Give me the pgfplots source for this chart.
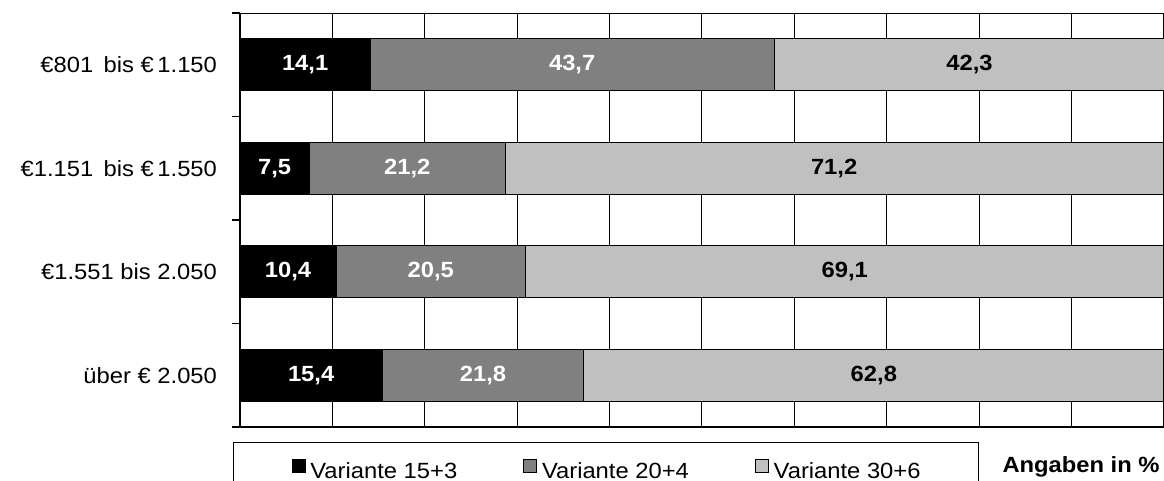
\documentclass[border=0pt]{standalone}
\usepackage{pgfplots}
\pgfplotsset{compat=1.18}
\usepackage{pgfplotstable}
\usepackage{fontspec}
\setmainfont{Liberation Sans}[FakeStretch=1.08]

\definecolor{midgray}{HTML}{808080}
\definecolor{lightgray}{HTML}{C0C0C0}

% shares per income group (top group at y=3)
\pgfplotstableread{
y a b c
3 14.1 43.7 42.3
2 7.5 21.2 71.2
1 10.4 20.5 69.1
0 15.4 21.8 62.8
}\data

\pgfplotsset{base/.style={
    scale only axis, width=462pt, height=207pt,
    xmin=0, xmax=100, ymin=-0.5, ymax=3.5,
  },
  lbl/.style={draw=none, forget plot, nodes near coords, point meta=explicit,
    nodes near coords={\pgfmathprintnumber[fixed,fixed zerofill,precision=1,use comma,assume math mode=true]{\pgfplotspointmeta}},
    every node near coord/.append style={anchor=center, font=\fontsize{11}{13}\bfseries, text=#1}},
}

\begin{document}
\begin{tikzpicture}[font=\fontsize{11}{13}\selectfont]
\begin{axis}[base, name=main,
    xbar stacked, bar width=0.5,
    axis x line*=bottom, axis y line*=left,
    axis line style={-, line width=0.6pt},
    xtick={0,10,...,100}, xticklabels={}, xtick style={draw=none},
    xmajorgrids, major grid style={black, line width=0.5pt},
    ytick={0,1,2,3},
    yticklabels={über € 2.050, €1.551 bis 2.050, €1.151~\,bis~€\,1.550, €801~\,bis~€\,1.150},
    ytick style={draw=none},
    yticklabel style={xshift=-8pt},
    extra y ticks={-0.5,0.5,1.5,2.5,3.5}, extra y tick labels={},
    extra y tick style={tick align=outside, major tick length=4pt,
      ytick style={draw=black, line width=0.6pt}},
  ]
\addplot[fill=black, draw=black, line width=0.5pt] table[x=a, y=y] {\data};
\addplot[fill=midgray, draw=black, line width=0.5pt] table[x=b, y=y] {\data};
\addplot[fill=lightgray, draw=black, line width=0.5pt] table[x=c, y=y] {\data};
\draw[line width=0.6pt] (rel axis cs:0,1) -- (rel axis cs:1,1);
\end{axis}

\begin{axis}[base, hide axis,
    legend columns=3,
    legend image code/.code={\draw[line width=0.4pt, #1] (0pt,-0.4pt) rectangle (6.5pt,6.5pt);},
    legend style={at={(0,0)}, anchor=north west, xshift=-3.5pt, yshift=-7.5pt,
      draw=black, line width=0.6pt, inner xsep=29pt, inner ysep=8pt,
      nodes={inner sep=0pt, anchor=west},
      /tikz/every odd column/.append style={column sep=2.5pt},
      /tikz/every even column/.append style={column sep=33pt}},
  ]
\addlegendimage{fill=black, draw=black}
\addlegendentry{Variante 15+3}
\addlegendimage{fill=midgray, draw=black}
\addlegendentry{Variante 20+4}
\addlegendimage{fill=lightgray, draw=black}
\addlegendentry{Variante 30+6}
\addplot[lbl=white] table[x expr=\thisrow{a}/2, y=y, meta=a] {\data};
\addplot[lbl=white] table[x expr=\thisrow{a}+\thisrow{b}/2, y=y, meta=b] {\data};
\addplot[lbl=black] table[x expr=\thisrow{a}+\thisrow{b}+\thisrow{c}/2, y=y, meta=c] {\data};
\end{axis}

\node[anchor=base east, inner sep=0pt, font=\fontsize{11}{13}\bfseries] at ([xshift=-2pt, yshift=-23pt]main.south east) {Angaben in \%};

\pgfresetboundingbox
\path[use as bounding box] ([xshift=-120pt, yshift=-27pt]main.south west) rectangle ([yshift=6.5pt]main.north east);
\end{tikzpicture}
\end{document}
